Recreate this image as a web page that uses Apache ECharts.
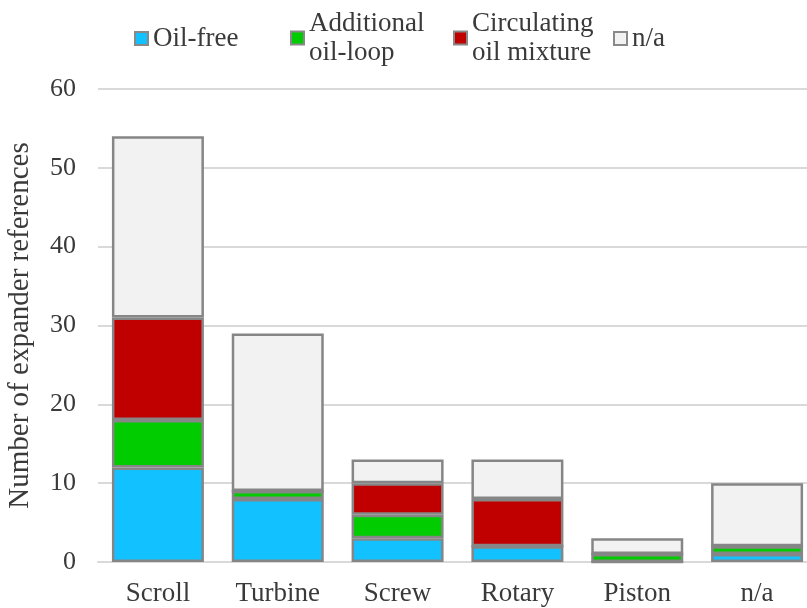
<!DOCTYPE html>
<html><head><meta charset="utf-8">
<script src="https://cdn.jsdelivr.net/npm/echarts@6/dist/echarts.min.js"></script>
<style>html,body{margin:0;padding:0;background:#fff}#c{width:807px;height:608px}</style>
</head><body><div id="c"></div>
<script>
var categories = ['Scroll', 'Turbine', 'Screw', 'Rotary', 'Piston', 'n/a'];
var oilFree = [12, 8, 3, 2, 0, 1];
var additionalOilLoop = [6, 1, 3, 0, 1, 1];
var circulatingOilMixture = [13, 0, 4, 6, 0, 0];
var notAvailable = [23, 20, 3, 5, 2, 8];
var seriesNames = ['Oil-free', 'Additional oil-loop', 'Circulating oil mixture', 'n/a'];
var legendLabels = ['Oil-free', 'Additional\noil-loop', 'Circulating\noil mixture', 'n/a'];
var yTicks = [0, 10, 20, 30, 40, 50, 60];

var FONT = 'Liberation Serif';
var TXT = '#3A3A3A';
var colors = ['#12C1FF', '#00CC00', '#C00000', '#F2F2F2'];
var values = [oilFree, additionalOilLoop, circulatingOilMixture, notAvailable];
var legendLeft = [134, 290, 453, 613];
var legendTop = [24, 9, 9, 24];

var legends = seriesNames.map(function (n, i) {
  return {
    data: [n],
    left: legendLeft[i], top: legendTop[i], padding: 0,
    itemWidth: 13, itemHeight: 13, itemGap: 0,
    icon: 'rect',
    formatter: function () { return legendLabels[i]; },
    textStyle: { fontFamily: FONT, fontSize: 27, color: TXT, lineHeight: 29 },
    itemStyle: { borderColor: '#898989', borderWidth: 2 }
  };
});

var chart = echarts.init(document.getElementById('c'), null, { renderer: 'canvas' });
chart.setOption({
  animation: false,
  textStyle: { fontFamily: FONT },
  legend: legends,
  grid: { left: 98, width: 719, top: 89, height: 473, containLabel: false, outerBoundsMode: 'none' },
  xAxis: {
    type: 'category', data: categories,
    axisTick: { show: false },
    axisLine: { lineStyle: { color: '#D9D9D9', width: 2 } },
    axisLabel: { fontFamily: FONT, fontSize: 27, color: TXT, margin: 18 }
  },
  yAxis: {
    type: 'value', min: 0, max: 60, interval: 10,
    name: 'Number of expander references', nameLocation: 'middle', nameGap: 63,
    nameTextStyle: { fontFamily: FONT, fontSize: 29, color: TXT },
    axisLine: { show: false }, axisTick: { show: false },
    axisLabel: { fontFamily: FONT, fontSize: 26, color: TXT, margin: 22,
      formatter: function (v) { return yTicks.indexOf(v) >= 0 ? String(v) : ''; } },
    splitLine: { lineStyle: { color: '#D9D9D9', width: 2 } }
  },
  series: seriesNames.map(function (n, i) {
    return {
      name: n, type: 'bar', stack: 'total', data: values[i], barWidth: 92,
      itemStyle: { color: colors[i], borderColor: '#868686', borderWidth: 2.5 }
    };
  })
});
</script></body></html>
